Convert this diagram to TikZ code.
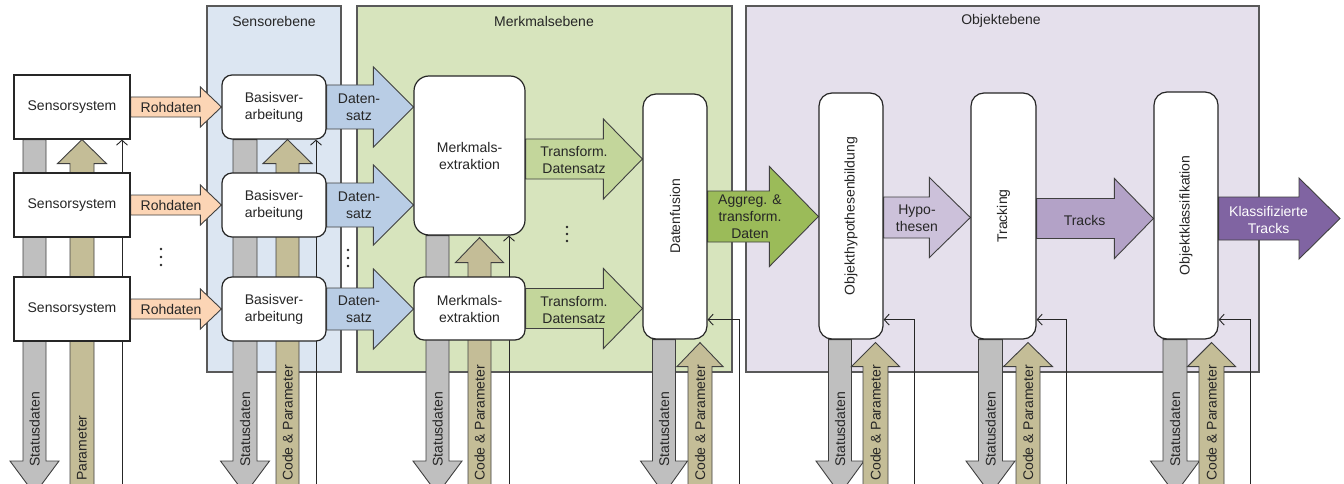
\documentclass[tikz,border=0pt]{standalone}
\usepackage{fontspec}
\setmainfont{Liberation Sans}
\usepackage{graphicx}
\usetikzlibrary{calc,arrows.meta}

\pgfdeclarelayer{planes}
\pgfdeclarelayer{flows}
\pgfsetlayers{planes,flows,main}

\definecolor{txt}{HTML}{262626}
\definecolor{edge}{HTML}{404040}
\definecolor{planeedge}{HTML}{595959}
\definecolor{sensbg}{HTML}{DCE6F2}
\definecolor{featbg}{HTML}{D7E4BD}
\definecolor{objbg}{HTML}{E5E0EC}
\definecolor{raw}{HTML}{FCD5B5}
\definecolor{dset}{HTML}{B9CDE5}
\definecolor{tset}{HTML}{C3D69B}
\definecolor{agg}{HTML}{9BBB59}
\definecolor{hyp}{HTML}{CCC1DA}
\definecolor{trk}{HTML}{B3A2C7}
\definecolor{cls}{HTML}{8064A2}
\definecolor{stat}{HTML}{BFBFBF}
\definecolor{cpar}{HTML}{C4BD97}

% block arrows: #1 style, #2 start, #3 tip, #4 half shaft, #5 half head, #6 head length
\newcommand{\blockright}[6]{%
  \path[#1] let \p1=(#2), \p2=(#3) in
    (\x1,\y1+#4pt) -- (\x2-#6pt,\y1+#4pt) -- (\x2-#6pt,\y1+#5pt) -- (\x2,\y1)
    -- (\x2-#6pt,\y1-#5pt) -- (\x2-#6pt,\y1-#4pt) -- (\x1,\y1-#4pt) -- cycle;}
\newcommand{\blockdown}[6]{%
  \path[#1] let \p1=(#2), \p2=(#3) in
    (\x1-#4pt,\y1) -- (\x1-#4pt,\y2+#6pt) -- (\x1-#5pt,\y2+#6pt) -- (\x1,\y2)
    -- (\x1+#5pt,\y2+#6pt) -- (\x1+#4pt,\y2+#6pt) -- (\x1+#4pt,\y1) -- cycle;}
\newcommand{\blockup}[6]{%
  \path[#1] let \p1=(#2), \p2=(#3) in
    (\x1-#4pt,\y1) -- (\x1-#4pt,\y2-#6pt) -- (\x1-#5pt,\y2-#6pt) -- (\x1,\y2)
    -- (\x1+#5pt,\y2-#6pt) -- (\x1+#4pt,\y2-#6pt) -- (\x1+#4pt,\y1) -- cycle;}

\begin{document}
\begin{tikzpicture}[x=1pt,y=-1pt,
  font=\fontsize{14}{17}\selectfont, text=txt,
  every node/.style={align=center},
  plane/.style={draw=planeedge, line width=1.1pt},
  sensbox/.style={draw=txt, fill=white, line width=1.2pt, inner sep=0pt,
                  minimum width=116pt, minimum height=64pt},
  procbox/.style={draw=txt, fill=white, line width=1.2pt, inner sep=0pt,
                  rounded corners=10pt},
  tallbox/.style={procbox, rounded corners=13pt, minimum width=64pt, minimum height=246pt},
  flow/.style={draw=edge, line width=0.9pt, line join=miter},
  fb/.style={draw=txt, line width=0.9pt, -{Straight Barb[length=5pt,width=11pt]}},
  vlabel/.style={rotate=90, anchor=west, inner sep=0pt},
  dot/.style={fill=txt, circle, inner sep=0pt, minimum size=2.8pt}
]
\useasboundingbox (0,0) rectangle (1344,484);

% ---------- planes ----------
\begin{pgfonlayer}{planes}
  \fill[white] (0,0) rectangle (1344,484);
  \draw[plane, fill=sensbg] (207,6) rectangle (341,372);
  \draw[plane, fill=featbg] (357,6) rectangle (732,372);
  \draw[plane, fill=objbg] (746,6) rectangle (1259,372);
\end{pgfonlayer}
\node (tsens) at (274,21) {Sensorebene};
\node (tfeat) at (544,21) {Merkmalsebene};
\node (tobj) at (1001,21) {Objektebene};

% ---------- processing blocks ----------
\node[sensbox] (s1) at (72,107) {Sensorsystem};
\node[sensbox] (s2) at (72,205) {Sensorsystem};
\node[sensbox] (s3) at (72,309) {Sensorsystem};

\node[procbox, minimum width=104pt, minimum height=64pt] (b1) at (274,107) {Basisver-\\arbeitung};
\node[procbox, minimum width=104pt, minimum height=64pt] (b2) at (274,205) {Basisver-\\arbeitung};
\node[procbox, minimum width=104pt, minimum height=64pt] (b3) at (274,309) {Basisver-\\arbeitung};

\node[procbox, rounded corners=15pt, minimum width=111pt, minimum height=159pt] (mx) at (469.5,155.5) {Merkmals-\\extraktion};
\node[procbox, minimum width=111pt, minimum height=63pt] (mxs) at (469.5,308.5) {Merkmals-\\extraktion};

\node[tallbox, minimum height=245pt] (df) at (675,216.5) {\rotatebox{90}{Datenfusion}};
\node[tallbox] (oh) at (851,216) {\rotatebox{90}{Objekthypothesenbildung}};
\node[tallbox, minimum width=65pt] (tr) at (1003.5,216) {\rotatebox{90}{Tracking}};
\node[tallbox, minimum height=247pt] (kl) at (1186,215.5) {\rotatebox{90}{Objektklassifikation}};

\coordinate (out) at (1340,218);

% ---------- data flows ----------
\begin{pgfonlayer}{flows}
  % raw data
  \blockright{flow, fill=raw}{s1.east}{b1.west}{10}{20}{21}
  \blockright{flow, fill=raw}{s2.east}{b2.west}{10}{20}{21}
  \blockright{flow, fill=raw}{s3.east}{b3.west}{10}{20}{21}
  % data sets
  \blockright{flow, fill=dset}{b1.east}{mx.west}{22}{40}{40}
  \blockright{flow, fill=dset}{b2.east}{mx.west}{22}{40}{40}
  \blockright{flow, fill=dset}{b3.east}{mxs.west}{21}{40}{40}
  % transformed data sets
  \blockright{flow, fill=tset}{$(mx.east)+(0,3.5)$}{df.west}{20}{40}{39}
  \blockright{flow, fill=tset}{mxs.east}{df.west}{20}{40}{39}
  % object level
  \blockright{flow, fill=agg}{df.east}{oh.west}{25.5}{50}{49}
  \blockright{flow, fill=hyp}{$(oh.east)+(0,1.5)$}{tr.west}{20.5}{40}{41}
  \blockright{flow, fill=trk}{$(tr.east)+(0,2.5)$}{kl.west}{20}{40}{39}
  \blockright{flow, fill=cls}{$(kl.east)+(0,3)$}{out}{21.5}{40.5}{41}

  % status data (down) and parameters (up)
  \blockdown{flow, fill=stat}{$(s1.south)+(-37.5,0)$}{0,494}{11.5}{24.5}{33}
  \blockup{flow, fill=cpar}{82,500}{s1.south}{12}{24.5}{24}
  \blockdown{flow, fill=stat}{$(b1.south)+(-29,0)$}{0,494}{12}{24.5}{33}
  \blockup{flow, fill=cpar}{287.5,500}{b1.south}{11.5}{24.5}{24}
  \blockdown{flow, fill=stat}{$(mx.south)+(-32,0)$}{0,494}{11.5}{24.5}{33}
  \blockup{flow, fill=cpar}{479.5,500}{$(mx.south)+(0,2)$}{11.5}{24}{25}
  \blockdown{flow, fill=stat}{$(df.south)+(-11,0)$}{0,494}{11.5}{23.5}{33}
  \blockup{flow, fill=cpar}{700,500}{$(df.south)+(0,3)$}{12}{23}{24}
  \blockdown{flow, fill=stat}{$(oh.south)+(-11,0)$}{0,494}{11.5}{24}{33}
  \blockup{flow, fill=cpar}{875.5,500}{$(oh.south)+(0,3)$}{12.5}{24}{24}
  \blockdown{flow, fill=stat}{$(tr.south)+(-13,0)$}{0,494}{12}{24.5}{33}
  \blockup{flow, fill=cpar}{1028,500}{$(tr.south)+(0,3)$}{12}{24.5}{24}
  \blockdown{flow, fill=stat}{$(kl.south)+(-11,0)$}{0,494}{12}{24.5}{33}
  \blockup{flow, fill=cpar}{1211.5,500}{$(kl.south)+(0,3)$}{12.5}{24}{24}

  % code feedback lines
  \coordinate (fs) at (122,500);
  \coordinate (fbv) at (316,500);
  \coordinate (fm) at (509,500);
  \coordinate (fd) at (739,500);
  \coordinate (fo) at (914,500);
  \coordinate (ft) at (1066,500);
  \coordinate (fk) at (1250,500);
  \draw[fb] (fs) -- (fs |- s1.south);
  \draw[fb] (fbv) -- (fbv |- b1.south);
  \draw[fb] (fm) -- (fm |- mx.south);
  \draw[fb] (fd) |- ($(df.south east)+(0,-20)$);
  \draw[fb] (fo) |- ($(oh.south east)+(0,-20)$);
  \draw[fb] (ft) |- ($(tr.south east)+(0,-20)$);
  \draw[fb] (fk) |- ($(kl.south east)+(0,-20)$);
\end{pgfonlayer}

% ---------- flow labels ----------
\node (lr1) at (171,107) {Rohdaten};
\node (lr2) at (171,205) {Rohdaten};
\node (lr3) at (171,309) {Rohdaten};
\node (ld1) at (359,107) {Daten-\\satz};
\node (ld2) at (359,205) {Daten-\\satz};
\node (ld3) at (359,309) {Daten-\\satz};
\node (lt1) at (574,160) {Transform.\\Datensatz};
\node (lt2) at (574,310) {Transform.\\Datensatz};
\node (lag) at (750,217) {Aggreg. \&\\transform.\\Daten};
\node (lhy) at (917,218) {Hypo-\\thesen};
\node (ltr) at (1084.5,220) {Tracks};
\node[text=white] (lkl) at (1268.5,219.5) {Klassifizierte\\Tracks};

\node[vlabel] (ls1) at (34.5,467) {Statusdaten};
\node[vlabel] (lp1) at (82,481) {Parameter};
\node[vlabel] (ls2) at (245,467) {Statusdaten};
\node[vlabel] (lp2) at (287.5,481) {Code \& Parameter};
\node[vlabel] (ls3) at (437.5,467) {Statusdaten};
\node[vlabel] (lp3) at (479.5,481) {Code \& Parameter};
\node[vlabel] (ls4) at (664,467) {Statusdaten};
\node[vlabel] (lp4) at (700,481) {Code \& Parameter};
\node[vlabel] (ls5) at (840,467) {Statusdaten};
\node[vlabel] (lp5) at (875.5,481) {Code \& Parameter};
\node[vlabel] (ls6) at (990.5,467) {Statusdaten};
\node[vlabel] (lp6) at (1028,481) {Code \& Parameter};
\node[vlabel] (ls7) at (1175,467) {Statusdaten};
\node[vlabel] (lp7) at (1211.5,481) {Code \& Parameter};

% ---------- ellipses ----------
\foreach \yy [count=\i] in {249,257,265} {
  \node[dot] (ea\i) at (161,\yy) {};
}
\foreach \yy [count=\i] in {250,258,266} {
  \node[dot] (eb\i) at (348,\yy) {};
}
\foreach \yy [count=\i] in {227,234,241} {
  \node[dot] (ec\i) at (567,\yy) {};
}
\end{tikzpicture}
\end{document}
